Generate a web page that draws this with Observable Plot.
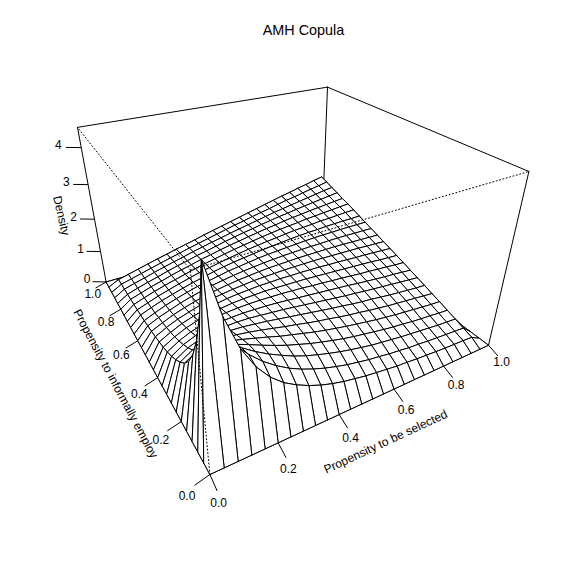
<!DOCTYPE html>
<html><head><meta charset="utf-8"><style>html,body{margin:0;padding:0;background:#fff}svg{display:block}</style></head><body>
<script src="https://cdn.jsdelivr.net/npm/d3@7"></script>
<script src="https://cdn.jsdelivr.net/npm/@observablehq/plot@0.6"></script>
<div id="chart"></div>
<script>
// Grid of the two propensities
const gridValues = d3.range(26).map(i => i * 0.04);
// Density on the interior of the grid: upper triangle, row by row (symmetric in the two propensities)
const densityUpper = [
 [4.45,3.24,2.43,1.88,1.49,1.21,1.01,.85,.72,.62,.54,.48,.42,.38,.34,.30,.28,.25,.23,.21,.19,.18,.17,.15],
 [2.78,2.33,1.95,1.65,1.41,1.21,1.05,.92,.81,.72,.64,.58,.52,.48,.43,.40,.36,.34,.31,.29,.27,.25,.23],
 [2.12,1.89,1.67,1.48,1.32,1.17,1.05,.95,.86,.78,.71,.65,.59,.55,.51,.47,.44,.41,.38,.35,.33,.31],
 [1.76,1.63,1.49,1.36,1.24,1.14,1.04,.96,.88,.81,.75,.70,.65,.60,.56,.53,.49,.46,.44,.41,.39],
 [1.55,1.46,1.37,1.27,1.19,1.11,1.03,.96,.90,.84,.79,.74,.69,.65,.61,.58,.55,.52,.49,.47],
 [1.41,1.35,1.28,1.21,1.15,1.08,1.02,.97,.91,.86,.82,.77,.73,.69,.66,.63,.60,.57,.54],
 [1.31,1.27,1.22,1.17,1.12,1.07,1.02,.97,.93,.88,.84,.81,.77,.73,.70,.67,.64,.62],
 [1.24,1.21,1.18,1.14,1.10,1.06,1.02,.98,.94,.91,.87,.84,.81,.78,.75,.72,.69],
 [1.20,1.18,1.15,1.12,1.09,1.06,1.03,1.00,.97,.93,.90,.87,.84,.82,.79,.76],
 [1.17,1.16,1.14,1.12,1.09,1.07,1.04,1.02,.99,.96,.94,.91,.89,.86,.84],
 [1.15,1.14,1.13,1.12,1.10,1.08,1.06,1.04,1.02,1.00,.98,.95,.93,.91],
 [1.15,1.14,1.14,1.13,1.12,1.10,1.09,1.07,1.05,1.04,1.02,1.00,.98],
 [1.15,1.15,1.15,1.15,1.14,1.13,1.12,1.11,1.10,1.08,1.07,1.05],
 [1.16,1.17,1.17,1.17,1.17,1.17,1.16,1.15,1.14,1.13,1.12],
 [1.18,1.19,1.20,1.20,1.21,1.21,1.21,1.20,1.20,1.19],
 [1.21,1.23,1.24,1.25,1.25,1.26,1.26,1.26,1.26],
 [1.25,1.27,1.28,1.30,1.31,1.32,1.32,1.33],
 [1.29,1.31,1.34,1.35,1.37,1.39,1.40],
 [1.35,1.37,1.40,1.42,1.45,1.47],
 [1.41,1.44,1.47,1.50,1.53],
 [1.48,1.52,1.56,1.60],
 [1.57,1.62,1.66],
 [1.67,1.73],
 [1.79]
];
const xTicks = [0, 0.2, 0.4, 0.6, 0.8, 1];
const yTicks = [0, 0.2, 0.4, 0.6, 0.8, 1];
const zTicks = [0, 1, 2, 3, 4];
const zTop = 4.519;
const titleText = "AMH Copula";
const xLabel = "Propensity to be selected";
const yLabel = "Propensity to informally employ";
const zLabel = "Density";

// Perspective view as in R's persp()
const theta = -0.521, phi = 0.519, eye = 3.781, expand = 0.622;
const pxScale = 569.271, pxX = 281.839, pxY = 235.408, size = 576;
function view(x, y, z) {
  const X = 2 * x - 1, Y = 2 * y - 1, Z = (2 * z / zTop - 1) * expand;
  const x1 = X * Math.cos(theta) + Y * Math.sin(theta);
  const z1 = X * Math.sin(theta) - Y * Math.cos(theta);
  const y2 = Z * Math.cos(phi) - z1 * Math.sin(phi);
  const z2 = Z * Math.sin(phi) + z1 * Math.cos(phi);
  return [x1 / (eye - z2), y2 / (eye - z2)];
}
const vx = (p) => view(p[0], p[1], p[2])[0];
const vy = (p) => view(p[0], p[1], p[2])[1];

// Density matrix, zero on the border of the unit square
const n = gridValues.length;
const density = d3.range(n).map(() => new Array(n).fill(0));
densityUpper.forEach((row, i) => row.forEach((v, k) => {
  density[i + 1][i + 1 + k] = v;
  density[i + 1 + k][i + 1] = v;
}));

// Facets back to front
const cells = [];
for (let i = n - 2; i >= 0; i--) for (let j = n - 2; j >= 0; j--) {
  for (const [a, b] of [[i, j], [i + 1, j], [i + 1, j + 1], [i, j + 1], [i, j]]) {
    cells.push({id: i * 100 + j, p: [gridValues[a], gridValues[b], density[a][b]]});
  }
}
const edge = (id, a, b) => [{id, p: a}, {id, p: b}];
const A = [0,0,0], B = [1,0,0], C = [0,1,0], D = [1,1,0];
const up = (q) => [q[0], q[1], zTop];
const backEdges = [[A,B],[A,C],[C,D],[B,D],[C,up(C)],[B,up(B)],[D,up(D)],[up(C),up(D)],[up(D),up(B)]]
  .flatMap((e, i) => edge(i, e[0], e[1]));
const frontEdges = [[A,up(A)],[up(A),up(B)],[up(A),up(C)]].flatMap((e, i) => edge(i, e[0], e[1]));

const xT = xTicks.map(t => ({t, a: [t,0,0], b: [t,-0.043,-0.1], l: [t,-0.086,-0.2]}));
const yT = yTicks.map(t => ({t, a: [0,t,0], b: [-0.043,t,-0.1], l: [-0.086,t,-0.2]}));
const zT = zTicks.map(t => ({t, a: [0,1,t], b: [-0.045,1.028,t], l: [-0.09,1.056,t]}));
const ticks = [...xT, ...yT, ...zT];
const fmt = d3.format(".1f");
const font = {fontFamily: "Liberation Sans, Helvetica, Arial, sans-serif", fontSize: 12, fill: "black"};
const axisTitles = [
  {s: xLabel, p: [0.454,-0.142,0], r: -25},
  {s: yLabel, p: [-0.12,0.439,0], r: 62},
  {s: zLabel, p: [-0.097,1.109,1.93], r: 77}
];

const chart = Plot.plot({
  width: size, height: size, margin: 0,
  x: {domain: [-pxX / pxScale, (size - pxX) / pxScale], axis: null},
  y: {domain: [(pxY - size) / pxScale, pxY / pxScale], axis: null},
  marks: [
    Plot.line(backEdges, {x: d => vx(d.p), y: d => vy(d.p), z: "id", stroke: "black", strokeWidth: 1}),
    Plot.line(cells, {x: d => vx(d.p), y: d => vy(d.p), z: "id", fill: "white", stroke: "black", strokeWidth: 1, strokeLinejoin: "round"}),
    Plot.line(frontEdges, {x: d => vx(d.p), y: d => vy(d.p), z: "id", stroke: "black", strokeWidth: 1, strokeDasharray: "1 2.5"}),
    Plot.link(ticks, {x1: d => vx(d.a), y1: d => vy(d.a), x2: d => vx(d.b), y2: d => vy(d.b), stroke: "black", strokeWidth: 1}),
    Plot.text(xT, {x: d => vx(d.l), y: d => vy(d.l), dx: -6, dy: -4.5, text: d => fmt(d.t), ...font}),
    Plot.text(yT, {x: d => vx(d.l), y: d => vy(d.l), dx: 8, dy: -0.5, text: d => fmt(d.t), ...font}),
    Plot.text(zT, {x: d => vx(d.l), y: d => vy(d.l), dx: 8, dy: -2, text: d => String(d.t), ...font}),
    Plot.text(axisTitles, {x: d => vx(d.p), y: d => vy(d.p), text: "s", rotate: "r", ...font}),
    Plot.text([titleText], {frameAnchor: "top", dx: 15, dy: 24, ...font, fontSize: 14.4})
  ]
});
document.getElementById("chart").append(chart);
</script></body></html>
